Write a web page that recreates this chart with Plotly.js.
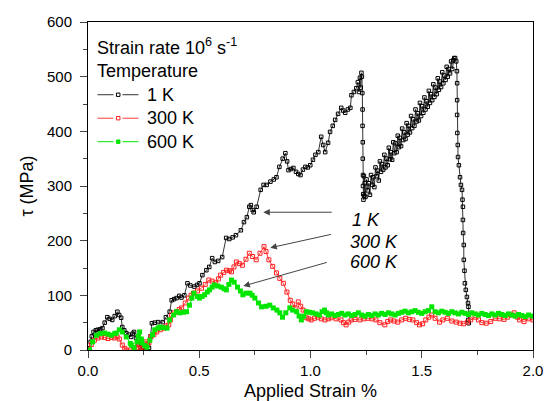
<!DOCTYPE html>
<html><head><meta charset="utf-8">
<script src="https://cdn.plot.ly/plotly-3.0.1.min.js"></script>
<style>html,body{margin:0;padding:0;background:#fff}#chart{width:544px;height:401px}</style>
</head><body><div id="chart"></div>
<script>
// 1 K series
const x1K = [0.000,0.005,0.012,0.017,0.025,0.035,0.043,0.055,0.065,0.075,0.087,0.097,0.109,0.12,0.132,0.14,0.149,0.154,0.163,0.172,0.183,0.194,0.201,0.207,0.216,0.225,0.235,0.243,0.253,0.263,0.274,0.281,0.287,0.3,0.315,0.336,0.35,0.367,0.376,0.387,0.398,0.41,0.42,0.433,0.447,0.46,0.478,0.49,0.501,0.514,0.532,0.545,0.558,0.57,0.585,0.603,0.621,0.635,0.65,0.665,0.687,0.701,0.714,0.725,0.732,0.74,0.745,0.758,0.776,0.789,0.803,0.82,0.835,0.847,0.86,0.875,0.887,0.895,0.901,0.912,0.923,0.935,0.945,0.955,0.966,0.977,0.988,0.999,1.011,1.022,1.035,1.048,1.057,1.066,1.079,1.088,1.1,1.111,1.124,1.138,1.147,1.156,1.168,1.179,1.184,1.195,1.206,1.213,1.218,1.222,1.226,1.229,1.231,1.233,1.234,1.234,1.235,1.235,1.236,1.236,1.237,1.238,1.240,1.242,1.244,
1.247,1.252,1.257,1.262,1.267,1.272,1.277,1.282,1.287,1.292,1.297,1.302,1.307,1.312,1.317,1.322,1.327,1.332,1.337,1.342,1.347,1.352,1.357,1.362,1.367,1.372,1.377,1.382,1.387,1.392,1.397,1.402,1.407,1.412,1.417,1.422,1.427,1.432,1.437,1.442,1.447,1.452,1.457,1.462,1.467,1.472,1.477,1.482,1.487,1.492,1.497,1.502,1.507,1.512,1.517,1.522,1.527,1.532,1.537,1.542,1.547,1.552,1.557,1.562,1.567,1.572,1.577,1.582,1.587,1.592,1.597,1.602,1.607,1.612,1.617,1.622,1.627,1.632,1.637,1.642,1.646,
1.650,1.655,1.658,1.659,1.659,1.659,1.660,1.662,1.663,1.667,1.672,1.676,1.681,1.683,1.685,1.685,1.686,1.689,1.689,1.692,1.694,1.698,1.703,1.708,1.710,1.712,1.709,1.711];
const y1K = [0,3,15,25,33,36,37,38,40,50,60,57,55,62,70,64,59,42,36,31,28,24,30,33,22,10,5,3,0,2,4,25,49,50,51,51,60,70,91,93,95,99,96,100,122,118,116,119,122,137,146,152,168,161,163,170,205,203,206,210,219,234,243,262,265,256,252,262,293,302,302,308,312,316,335,350,360,345,329,331,333,326,322,320,330,335,334,338,348,357,362,390,375,362,379,399,410,421,432,443,438,434,440,443,466,472,479,490,472,498,480,507,500,470,440,410,380,350,320,300,285,275,318,282,305,
280,312,292,305,284,320,302,316,298,334,318,328,310,345,326,340,330,357,334,350,338,370,349,362,348,380,360,378,362,392,371,388,373,405,384,398,386,415,394,410,398,428,406,422,410,440,418,433,420,452,428,446,434,462,440,455,445,474,452,468,457,486,463,480,468,497,476,491,481,508,488,502,494,518,500,514,506,528,514,530,534,
534,528,510,488,457,430,397,375,353,338,316,302,293,275,262,238,214,192,165,145,122,110,97,86,79,64,55,49];

// 300 K series
const x300K = [0.0,0.015,0.029,0.045,0.060,0.075,0.090,0.105,0.118,0.131,0.141,0.154,0.165,0.172,0.19,0.207,0.22,0.229,0.236,0.243,0.252,0.261,0.268,0.274,0.283,0.296,0.309,0.325,0.341,0.352,0.363,0.37,0.376,0.387,0.398,0.41,0.421,0.437,0.452,0.463,0.474,0.492,0.51,0.527,0.543,0.558,0.574,0.586,0.596,0.61,0.623,0.635,0.645,0.656,0.667,0.68,0.694,0.71,0.725,0.74,0.756,0.773,0.791,0.80,0.813,0.83,0.847,0.862,0.878,0.894,0.909,0.92,0.931,0.945,0.956,0.967,0.981,0.992,1.003,1.018,1.033,1.048,1.065,1.08,1.093,1.115,1.137,1.148,1.16,1.172,1.183,1.2,1.222,1.24,1.258,1.276,1.294,1.312,1.334,1.347,1.36,1.375,1.392,1.41,1.428,1.444,1.46,1.477,1.49,1.504,1.518,1.532,1.545,1.56,1.58,1.595,1.615,1.635,1.655,1.672,1.688,1.705,1.72,1.74,1.755,1.77,1.79,1.81,1.83,1.85,1.87,1.885,1.9,1.915,1.93,1.94,1.96,1.98,2.0];
const y300K = [0,10,18,22,24,23,21,23,22,24,20,9,3,0,0,0,5,9,3,0,8,15,12,13,24,28,33,37,40,44,46,55,64,68,70,74,77,86,95,100,104,108,113,120,128,126,123,130,137,142,146,145,143,152,161,158,155,166,177,171,165,177,189,180,165,153,141,131,122,106,91,84,77,88,80,73,59,57,55,58,60,57,55,57,59,57,55,50,46,51,55,56,55,57,58,57,55,50,46,52,55,53,51,55,58,56,55,50,46,48,55,60,64,58,51,55,58,53,51,49,48,51,55,60,55,50,49,52,58,57,56,60,64,68,60,55,52,57,55];

// 600 K series
const x600K = [0.007,0.021,0.038,0.055,0.074,0.09,0.105,0.12,0.127,0.141,0.154,0.172,0.19,0.195,0.207,0.22,0.226,0.232,0.24,0.243,0.255,0.265,0.278,0.29,0.3,0.315,0.323,0.337,0.355,0.367,0.385,0.398,0.412,0.428,0.443,0.456,0.467,0.476,0.492,0.501,0.513,0.524,0.536,0.546,0.558,0.568,0.583,0.599,0.612,0.622,0.633,0.645,0.657,0.672,0.685,0.696,0.71,0.728,0.738,0.75,0.766,0.78,0.8,0.817,0.833,0.849,0.862,0.874,0.889,0.907,0.92,0.938,0.949,0.959,0.97,0.982,0.995,1.009,1.025,1.04,1.052,1.063,1.072,1.08,1.095,1.11,1.125,1.14,1.155,1.17,1.185,1.2,1.215,1.23,1.245,1.26,1.275,1.29,1.305,1.32,1.335,1.35,1.365,1.38,1.395,1.41,1.425,1.44,1.455,1.47,1.485,1.5,1.515,1.53,1.545,1.56,1.575,1.59,1.605,1.62,1.635,1.65,1.665,1.68,1.695,1.71,1.725,1.74,1.755,1.77,1.785,1.8,1.815,1.83,1.845,1.86,1.875,1.89,1.905,1.92,1.935,1.95,1.965,1.98,2.0];
const y600K = [0,15,27,30,31,29,27,30,31,37,33,24,12,9,4,15,25,33,20,13,8,5,18,28,37,40,42,41,40,55,64,70,68,69,70,82,95,104,98,95,98,101,106,110,115,119,117,115,112,110,120,128,124,115,108,101,104,104,100,95,86,79,80,82,77,73,68,60,68,77,73,70,62,55,62,70,69,68,66,64,70,73,68,64,66,63,65,67,64,66,63,65,68,64,62,65,63,66,64,67,65,68,66,64,67,69,71,68,70,72,69,67,70,72,79,70,68,71,69,67,70,68,66,69,67,65,68,66,64,67,65,63,66,64,67,65,63,66,64,62,65,63,61,64,62];

const seriesNames = ['1 K','300 K','600 K'];
const xTickVals = [0,0.5,1.0,1.5,2.0];
const xTickText = ['0.0','0.5','1.0','1.5','2.0'];

const FONT = 'Liberation Sans, Arial, Helvetica, sans-serif';
const lineColors = ['#333333','#ff3b3b','#00e600'];
const markerColors = ['#000000','#ff2020','#00e600'];

const traces = [
  {x:x1K, y:y1K, name:seriesNames[0], type:'scatter', mode:'lines+markers',
   line:{color:lineColors[0], width:1},
   marker:{symbol:'square-open', size:3.5, color:markerColors[0], line:{width:1, color:markerColors[0]}}},
  {x:x300K, y:y300K, name:seriesNames[1], type:'scatter', mode:'lines+markers',
   line:{color:lineColors[1], width:1},
   marker:{symbol:'square-open', size:4, color:markerColors[1], line:{width:1, color:markerColors[1]}}},
  {x:x600K, y:y600K, name:seriesNames[2], type:'scatter', mode:'lines+markers',
   line:{color:lineColors[2], width:1},
   marker:{symbol:'square', size:5, color:markerColors[2], line:{width:0}}}
];

// plot area geometry (for the hand-drawn legend in paper coordinates)
const PL = 87.5, PW = 445.5, PB = 350, PH = 328.3;
const px2x = p => (p - PL) / PW;
const py2y = p => (PB - p) / PH;

const shapes = [];
const annotations = [];
const rowY = [94.5, 118, 141.5];
seriesNames.forEach((nm, i) => {
  const yy = py2y(rowY[i]);
  shapes.push({type:'line', xref:'paper', yref:'paper', x0:px2x(97), x1:px2x(113), y0:yy, y1:yy, line:{color:lineColors[i], width:1}});
  shapes.push({type:'line', xref:'paper', yref:'paper', x0:px2x(122), x1:px2x(138), y0:yy, y1:yy, line:{color:lineColors[i], width:1}});
  const filled = i === 2;
  shapes.push({type:'rect', xref:'paper', yref:'paper', x0:px2x(116), x1:px2x(119.5), y0:py2y(rowY[i]+1.7), y1:py2y(rowY[i]-1.7),
    line:{color:markerColors[i], width:1}, fillcolor: filled ? markerColors[i] : 'rgba(0,0,0,0)'});
  annotations.push({xref:'paper', yref:'paper', x:px2x(145), y:yy, text:nm, showarrow:false,
    xanchor:'left', yanchor:'middle', font:{family:FONT, size:18, color:'#000'}});
});
annotations.push({xref:'paper', yref:'paper', x:px2x(95), y:py2y(46), text:'Strain rate 10<sup>6</sup> s<sup>-1</sup>', showarrow:false,
  xanchor:'left', yanchor:'middle', font:{family:FONT, size:18, color:'#000'}});
annotations.push({xref:'paper', yref:'paper', x:px2x(95), y:py2y(71), text:'Temperature', showarrow:false,
  xanchor:'left', yanchor:'middle', font:{family:FONT, size:18, color:'#000'}});

const arrowColor = '#444444';
function arrow(hx, hy, tx, ty){
  return {x:hx, y:hy, ax:tx, ay:ty, xref:'x', yref:'y', axref:'x', ayref:'y',
    text:'', showarrow:true, arrowhead:2, arrowsize:1.3, arrowwidth:1, arrowcolor:arrowColor};
}
function label(tx, ty, t){
  return {x:tx, y:ty, xref:'x', yref:'y', text:'<i>'+t+'</i>', showarrow:false,
    xanchor:'left', yanchor:'middle', font:{family:FONT, size:18, color:'#000'}};
}
annotations.push(arrow(0.788,252,1.102,252));
annotations.push(arrow(0.819,187,1.098,212));
annotations.push(arrow(0.698,117,1.080,161));
annotations.push(label(1.178,238,'1 K'));
annotations.push(label(1.169,198,'300 K'));
annotations.push(label(1.169,161,'600 K'));

const layout = {
  width:544, height:401,
  margin:{l:87.5, r:11, t:22, b:51},
  paper_bgcolor:'#ffffff', plot_bgcolor:'#ffffff',
  font:{family:FONT, size:15, color:'#000'},
  showlegend:false,
  xaxis:{range:[0,2], tickvals:xTickVals, ticktext:xTickText, ticks:'outside', ticklen:7, tickwidth:1,
    showline:true, linecolor:'#000', linewidth:1, mirror:true, showgrid:false, zeroline:false,
    minor:{dtick:0.25, ticks:'outside', ticklen:4, tickwidth:1, showgrid:false},
    tickfont:{family:FONT, size:15},
    title:{text:'Applied Strain %', font:{family:FONT, size:18}, standoff:9}},
  yaxis:{range:[0,600], dtick:100, ticks:'outside', ticklen:7, tickwidth:1, ticklabelstandoff:5,
    showline:true, linecolor:'#000', linewidth:1, mirror:true, showgrid:false, zeroline:false,
    minor:{dtick:50, ticks:'outside', ticklen:4, tickwidth:1, showgrid:false},
    tickfont:{family:FONT, size:15},
    title:{text:'τ (MPa)', font:{family:FONT, size:18}, standoff:8}},
  shapes: shapes,
  annotations: annotations
};

Plotly.newPlot('chart', traces, layout, {displayModeBar:false, staticPlot:true});
</script></body></html>
